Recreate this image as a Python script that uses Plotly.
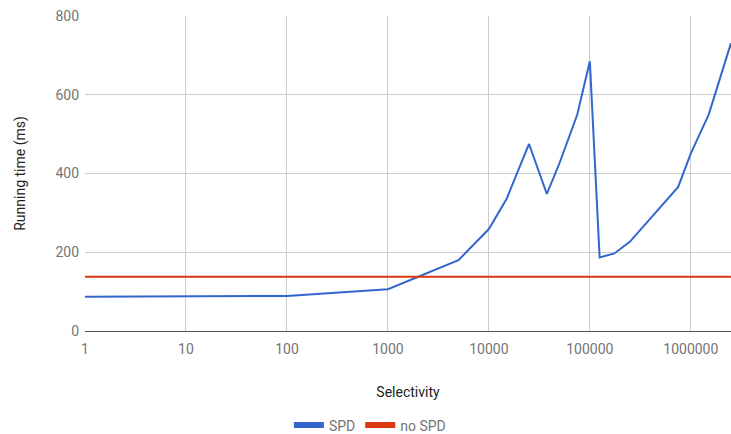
import plotly.graph_objects as go

selectivity = [1, 5, 10, 100, 1000, 5000, 10000, 15000, 25000, 37500, 50000, 75000,
               100000, 125000, 175000, 250000, 750000, 1000000, 1500000, 2500000]
spd_ms = [87, 88, 88, 89, 106, 180, 259, 336, 475, 348, 426, 549,
          685, 187, 197, 227, 366, 451, 549, 731]
no_spd_ms = [138] * len(selectivity)

tick_vals = [1, 10, 100, 1000, 10000, 100000, 1000000]
tick_text = ["1", "10", "100", "1000", "10000", "100000", "1000000"]
y_ticks = [0, 200, 400, 600, 800]

BLUE = "#3366cc"
RED = "#dc3912"
TICK_GRAY = "#757575"

fig = go.Figure()
fig.add_trace(go.Scatter(x=selectivity, y=spd_ms, mode="lines", name="SPD",
                         line=dict(color=BLUE, width=2), showlegend=False))
fig.add_trace(go.Scatter(x=selectivity, y=no_spd_ms, mode="lines", name="no SPD",
                         line=dict(color=RED, width=2), showlegend=False))
# legend entries
fig.add_trace(go.Scatter(x=[None], y=[None], mode="lines", name="SPD",
                         line=dict(color=BLUE, width=6)))
fig.add_trace(go.Scatter(x=[None], y=[None], mode="lines", name="no SPD",
                         line=dict(color=RED, width=6)))

fig.update_layout(
    width=731, height=434,
    margin=dict(l=85, r=0, t=16, b=103, autoexpand=False),
    paper_bgcolor="white", plot_bgcolor="white",
    font=dict(family="Roboto", size=14, color=TICK_GRAY),
    legend=dict(orientation="h",
                x=0.441, xanchor="center", y=-0.30, yanchor="middle",
                font=dict(size=14, color=TICK_GRAY), itemwidth=30),
    xaxis=dict(
        type="log", range=[0, 6.398], automargin=False,
        tickvals=tick_vals, ticktext=tick_text,
        tickfont=dict(color=TICK_GRAY, size=14),
        showgrid=True, gridcolor="#cccccc", gridwidth=1,
        zeroline=False, showline=False, ticks="",
        ticklabelstandoff=8,
        title=dict(text="Selectivity", font=dict(size=14, color="#222"), standoff=31),
    ),
    yaxis=dict(
        range=[0, 800], tickvals=y_ticks, automargin=False,
        tickfont=dict(color=TICK_GRAY, size=14),
        showgrid=True, gridcolor="#cccccc", gridwidth=1,
        zeroline=True, zerolinecolor="#555555", zerolinewidth=1,
        showline=False, ticks="", ticklabelstandoff=5,
        title=dict(text="Running time (ms)", font=dict(size=14, color="#222"), standoff=26),
    ),
)

fig.write_html("out.html", config={"displayModeBar": False},
               post_script="document.body.style.margin='0px';document.body.style.overflow='hidden';")
